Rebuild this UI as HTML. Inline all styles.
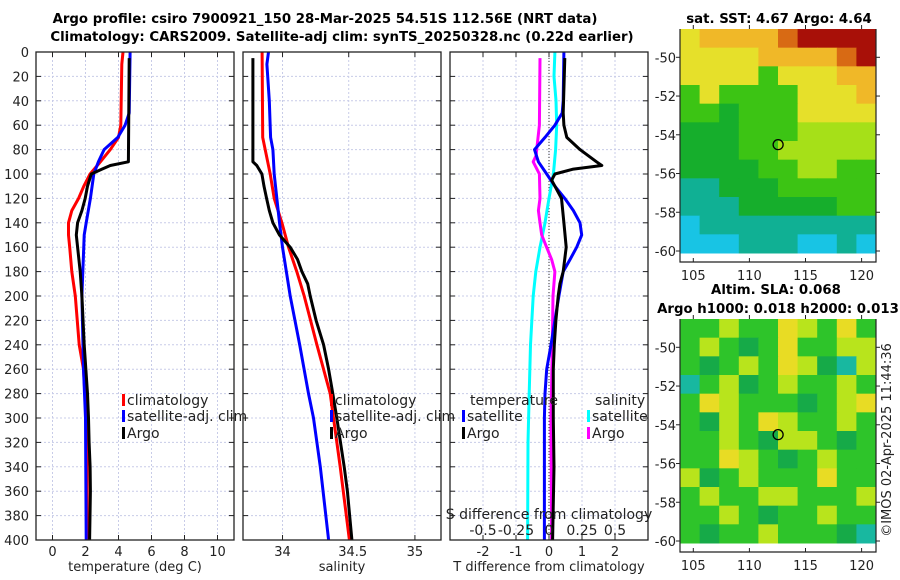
<!DOCTYPE html>
<html><head><meta charset="utf-8"><style>
body{margin:0;background:#fff;}
svg{display:block;font-family:"DejaVu Sans","Liberation Sans",sans-serif;}
</style></head><body>
<svg id="fig" width="900" height="580" viewBox="0 0 900 580">
<text x="325" y="23" text-anchor="middle" font-weight="bold" font-size="13.3">Argo profile: csiro 7900921_150 28-Mar-2025 54.51S 112.56E (NRT data)</text>
<text x="342" y="41" text-anchor="middle" font-weight="bold" font-size="13.3">Climatology: CARS2009. Satellite-adj clim: synTS_20250328.nc (0.22d earlier)</text>
</svg>
<script>
const depthTicks=[0,20,40,60,80,100,120,140,160,180,200,220,240,260,280,300,320,340,360,380,400];
const tTicks=[0,2,4,6,8,10];
const sTicks=[34,34.5,35];
const dTTicks=[-2,-1,0,1,2];
const dSTicks=[-0.5,-0.25,0,0.25,0.5];
const dSTickLabels=['-0.5','-0.25','0','0.25','0.5'];
// temperature profiles
const tClimDepth=[0,10,60,70,80,90,100,110,120,130,140,150,160,180,200,240,260,300,340,400];
const tClim=[4.27,4.2,4.14,4.0,3.5,2.9,2.28,1.9,1.58,1.17,0.97,0.97,1.04,1.17,1.38,1.62,1.88,2.05,2.1,2.1];
const tSatDepth=[0,50,60,70,80,90,100,120,140,150,200,260,300,400];
const tSat=[4.7,4.65,4.4,3.96,3.13,2.78,2.5,2.3,2.04,1.92,1.78,1.88,2.0,2.04];
const tArgoDepth=[5,90,93,96,100,110,120,130,140,150,160,180,200,240,280,300,320,340,360,380,400];
const tArgo=[4.65,4.6,3.5,3.0,2.35,2.12,1.98,1.78,1.52,1.44,1.52,1.68,1.78,1.92,2.12,2.18,2.22,2.28,2.3,2.27,2.25];
// salinity profiles
const sClimDepth=[0,70,100,120,140,160,180,200,240,280,300,340,400];
const sClim=[33.846,33.85,33.907,33.937,33.995,34.045,34.108,34.164,34.26,34.36,34.385,34.436,34.505];
const sSatDepth=[0,10,40,70,80,100,140,160,200,240,280,300,340,400];
const sSat=[33.894,33.882,33.9,33.91,33.927,33.937,33.977,34.0,34.058,34.13,34.196,34.234,34.285,34.348];
const sArgoDepth=[5,90,93,100,110,120,130,140,150,160,170,180,190,200,220,240,260,280,300,340,360,400];
const sArgo=[33.776,33.776,33.806,33.844,33.86,33.88,33.9,33.927,33.977,34.058,34.113,34.146,34.19,34.209,34.254,34.31,34.348,34.38,34.41,34.466,34.49,34.524];
// differences
const dTSatDepth=[0,40,50,60,70,80,90,100,110,120,130,140,150,160,170,180,200,220,240,260,280,300,400];
const dTSat=[0.45,0.43,0.4,0.18,-0.12,-0.44,-0.32,-0.07,0.18,0.48,0.74,0.94,0.99,0.84,0.64,0.43,0.3,0.18,0.06,-0.07,-0.12,-0.14,-0.14];
const dTArgoDepth=[5,50,60,70,80,90,93,96,100,105,110,120,140,160,180,190,200,220,240,260,300,340,400];
const dTArgo=[0.48,0.43,0.45,0.54,0.94,1.44,1.6,0.74,0.18,0.08,0.18,0.38,0.45,0.52,0.43,0.33,0.28,0.21,0.16,0.13,0.13,0.15,0.11];
const dSSatDepth=[0,20,40,60,80,100,120,140,160,180,200,240,280,320,400];
const dSSat=[0.045,0.038,0.053,0.058,0.05,0.033,0.0,-0.03,-0.068,-0.1,-0.12,-0.14,-0.15,-0.159,-0.162];
const dSArgoDepth=[5,60,80,85,90,100,120,130,140,150,160,170,180,200,240,300,400];
const dSArgo=[-0.068,-0.073,-0.093,-0.098,-0.12,-0.073,-0.068,-0.08,-0.068,-0.055,-0.018,0.02,0.045,0.03,0.025,0.015,0.02];
// maps (coarse colour grids)
const sstGrid=["yoooorRRRR","yyyyoooorR","yyyygyyyoo","gyggggyyyo","ggGgggyyyy","GGGggglllll".slice(0,10),"GGGggllllly".slice(0,10),"GGGGggllgg","ttGGGggggg","tttGGGGGgg","cttttttttt","ccctttcctc"];
const slaGrid=["gglggylgyg","glgGgyggll","gGglgylGtl","tglGglgglg","gylgggGgly","gGlgylgglg","gglgGllgGg","ggylgGglgg","lGglgggygg","glggllgggl","gglgGgglgg","gGgglgggGt"];
const sstColors={y:"#e6e02a",o:"#f0b828",r:"#d86a14",R:"#a81008",g:"#3cc414",G:"#16ae2c",l:"#a6e018",t:"#10b094",c:"#18c4e4"};
const slaColors={g:"#2ec42a",G:"#16aa48",l:"#b8e41c",y:"#e8dc24",t:"#18b8a0"};

const NS="http://www.w3.org/2000/svg";
const svg=document.getElementById('fig');
function mk(tag,attrs,parent){const e=document.createElementNS(NS,tag);for(const k in attrs)e.setAttribute(k,attrs[k]);(parent||svg).appendChild(e);return e;}
const Y0=52,Y1=540;
const yD=d=>Y0+(d/400)*(Y1-Y0);
function panel(x0,x1,dmin,dmax,name){
  const g=mk('g',{});
  
  
  return {g,x:v=>x0+(v-dmin)/(dmax-dmin)*(x1-x0),x0,x1};
}
function grid(p,ticks){
  depthTicks.forEach(d=>{const l=mk('line',{x1:p.x0,x2:p.x1,y1:yD(d),y2:yD(d),stroke:'#c8cce8','stroke-width':1,'stroke-dasharray':'2,2'},p.g);
    
    mk('line',{x1:p.x0,x2:p.x0+5,y1:yD(d),y2:yD(d),stroke:'#222'},p.g);mk('line',{x1:p.x1-5,x2:p.x1,y1:yD(d),y2:yD(d),stroke:'#222'},p.g);});
  ticks.forEach(t=>{const X=p.x(t);const l=mk('line',{x1:X,x2:X,y1:Y0,y2:Y1,stroke:'#c8cce8','stroke-width':1,'stroke-dasharray':'2,2'},p.g);
    
    mk('line',{x1:X,x2:X,y1:Y0,y2:Y0+5,stroke:'#222'},p.g);mk('line',{x1:X,x2:X,y1:Y1-5,y2:Y1,stroke:'#222'},p.g);});
}
function frame(p){const r=mk('rect',{x:p.x0,y:Y0,width:p.x1-p.x0,height:Y1-Y0,fill:'none',stroke:'#222','stroke-width':1.3},p.g);}
function line(p,ds,vs,color,name,xf){
  const f=xf||p.x;
  const pts=ds.map((d,i)=>f(vs[i]).toFixed(1)+','+yD(d).toFixed(1)).join(' ');
  const l=mk('polyline',{points:pts,fill:'none',stroke:color,'stroke-width':3,'stroke-linejoin':'round'},p.g);
  
  
}
function text(x,y,s,attrs,parent,name){const t=mk('text',Object.assign({x,y,'font-size':13,fill:'#222'},attrs||{}),parent);t.textContent=s;return t;}
function legendEntry(p,x,y,color,label,name){
  const m=mk('rect',{x:x,y:y-11,width:3,height:12,fill:color},p.g);
  
  text(x+5,y,label,{'font-size':14},p.g,name);
}
// Panel 1
const p1=panel(36,234,-1,11,'temperature-panel');
grid(p1,tTicks);
line(p1,tClimDepth,tClim,'#f00','temp-climatology-line');
line(p1,tSatDepth,tSat,'#00f','temp-satellite-line');
line(p1,tArgoDepth,tArgo,'#000','temp-argo-line');
frame(p1);
depthTicks.forEach(d=>text(29,yD(d)+5,String(d),{'text-anchor':'end'},p1.g,'depth-tick-label'));
tTicks.forEach(t=>text(p1.x(t),556,String(t),{'text-anchor':'middle'},p1.g,'temp-tick-label'));
text(135,571,'temperature (deg C)',{'text-anchor':'middle'},p1.g,'temp-axis-title');
legendEntry(p1,122,405,'#f00','climatology','legend-climatology');
legendEntry(p1,122,421,'#00f','satellite-adj. clim','legend-satellite');
legendEntry(p1,122,438,'#000','Argo','legend-argo');
// Panel 2
const p2=panel(243,441,33.7015,35.197,'salinity-panel');
grid(p2,sTicks);
line(p2,sClimDepth,sClim,'#f00','sal-climatology-line');
line(p2,sSatDepth,sSat,'#00f','sal-satellite-line');
line(p2,sArgoDepth,sArgo,'#000','sal-argo-line');
frame(p2);
['34','34.5','35'].forEach((s,i)=>text(p2.x(sTicks[i])+(i==1?4:0),556,s,{'text-anchor':'middle'},p2.g,'sal-tick-label'));
text(342,571,'salinity',{'text-anchor':'middle'},p2.g,'sal-axis-title');
legendEntry(p2,330,405,'#f00','climatology','legend-climatology-2');
legendEntry(p2,330,421,'#00f','satellite-adj. clim','legend-satellite-2');
legendEntry(p2,330,438,'#000','Argo','legend-argo-2');
// Panel 3
const p3=panel(450,648,-3,3,'difference-panel');
grid(p3,dTTicks);
const xS=v=>p3.x(v*4);
const z=mk('line',{x1:p3.x(0),x2:p3.x(0),y1:Y0,y2:Y1,stroke:'#333','stroke-width':1,'stroke-dasharray':'1,2'},p3.g);

line(p3,dSSatDepth,dSSat,'#0ff','sal-diff-satellite-line',xS);
line(p3,dSArgoDepth,dSArgo,'#f0f','sal-diff-argo-line',xS);
line(p3,dTSatDepth,dTSat,'#00f','temp-diff-satellite-line');
line(p3,dTArgoDepth,dTArgo,'#000','temp-diff-argo-line');
frame(p3);
dTTicks.forEach(t=>text(p3.x(t),556,String(t),{'text-anchor':'middle'},p3.g,'tdiff-tick-label'));
text(549,571,'T difference from climatology',{'text-anchor':'middle'},p3.g,'tdiff-axis-title');
text(549,519,'S difference from climatology',{'text-anchor':'middle','font-size':14},p3.g,'sdiff-axis-title');
dSTicks.forEach((t,i)=>text(xS(t),535,dSTickLabels[i],{'text-anchor':'middle','font-size':14},p3.g,'sdiff-tick-label'));
text(470,405,'temperature',{'font-size':14},p3.g,'legend-temperature-heading');
text(595,405,'salinity',{'font-size':14},p3.g,'legend-salinity-heading');
legendEntry(p3,462,421,'#00f','satellite','legend-temp-satellite');
legendEntry(p3,462,438,'#000','Argo','legend-temp-argo');
legendEntry(p3,587,421,'#0ff','satellite','legend-sal-satellite');
legendEntry(p3,587,438,'#f0f','Argo','legend-sal-argo');
// Maps
function map(top,gridData,colors,name,titles){
  const g=mk('g',{});
  
  
  const X0=680,X1=876,IB=top+224,AB=top+233;
  const rows=gridData.length,cols=gridData[0].length;
  const cw=(X1-X0)/cols,rh=(IB-top)/rows;
  gridData.forEach((row,r)=>{for(let c=0;c<cols;c++){const cell=mk('rect',{x:X0+c*cw,y:top+r*rh,width:cw+0.5,height:rh+0.5,fill:colors[row[c]]},g);
    }});
  const lon=v=>693.3+(v-105)*11.22;
  const lat=v=>top+28.3+(-50-v)*19.37;
  mk('polyline',{points:`${X0},${top} ${X0},${AB} ${X1},${AB} ${X1},${top}`,fill:'none',stroke:'#222','stroke-width':1.2},g);
  [105,110,115,120].forEach(v=>{mk('line',{x1:lon(v),x2:lon(v),y1:AB,y2:AB-4,stroke:'#222'},g);mk('line',{x1:lon(v),x2:lon(v),y1:top,y2:top-4,stroke:'#222'},g);text(lon(v),AB+18,String(v),{'text-anchor':'middle'},g,'lon-tick-label');});
  [-50,-52,-54,-56,-58,-60].forEach(v=>{mk('line',{x1:X0,x2:X0-4,y1:lat(v),y2:lat(v),stroke:'#222'},g);mk('line',{x1:X1,x2:X1+4,y1:lat(v),y2:lat(v),stroke:'#222'},g);text(X0-4,lat(v)+5,String(v),{'text-anchor':'end'},g,'lat-tick-label');});
  const c=mk('circle',{cx:lon(112.56),cy:lat(-54.51),r:5,fill:'none',stroke:'#000','stroke-width':1.3},g);
  
  titles.forEach((t,i)=>text(t[1],t[2],t[0],{'text-anchor':'middle','font-weight':'bold','font-size':13.3,fill:'#000'},g,'map-title'));
}
map(29,sstGrid,sstColors,'sst-map',[['sat. SST: 4.67 Argo: 4.64',779,23]]);
map(319,slaGrid,slaColors,'sla-map',[['Altim. SLA: 0.068',776,294],['Argo h1000: 0.018 h2000: 0.013',778,313]]);
const side=text(0,0,'©IMOS 02-Apr-2025 11:44:36',{'text-anchor':'middle',transform:'translate(891,440) rotate(-90)'},svg,'timestamp-credit');
</script>
</body></html>
